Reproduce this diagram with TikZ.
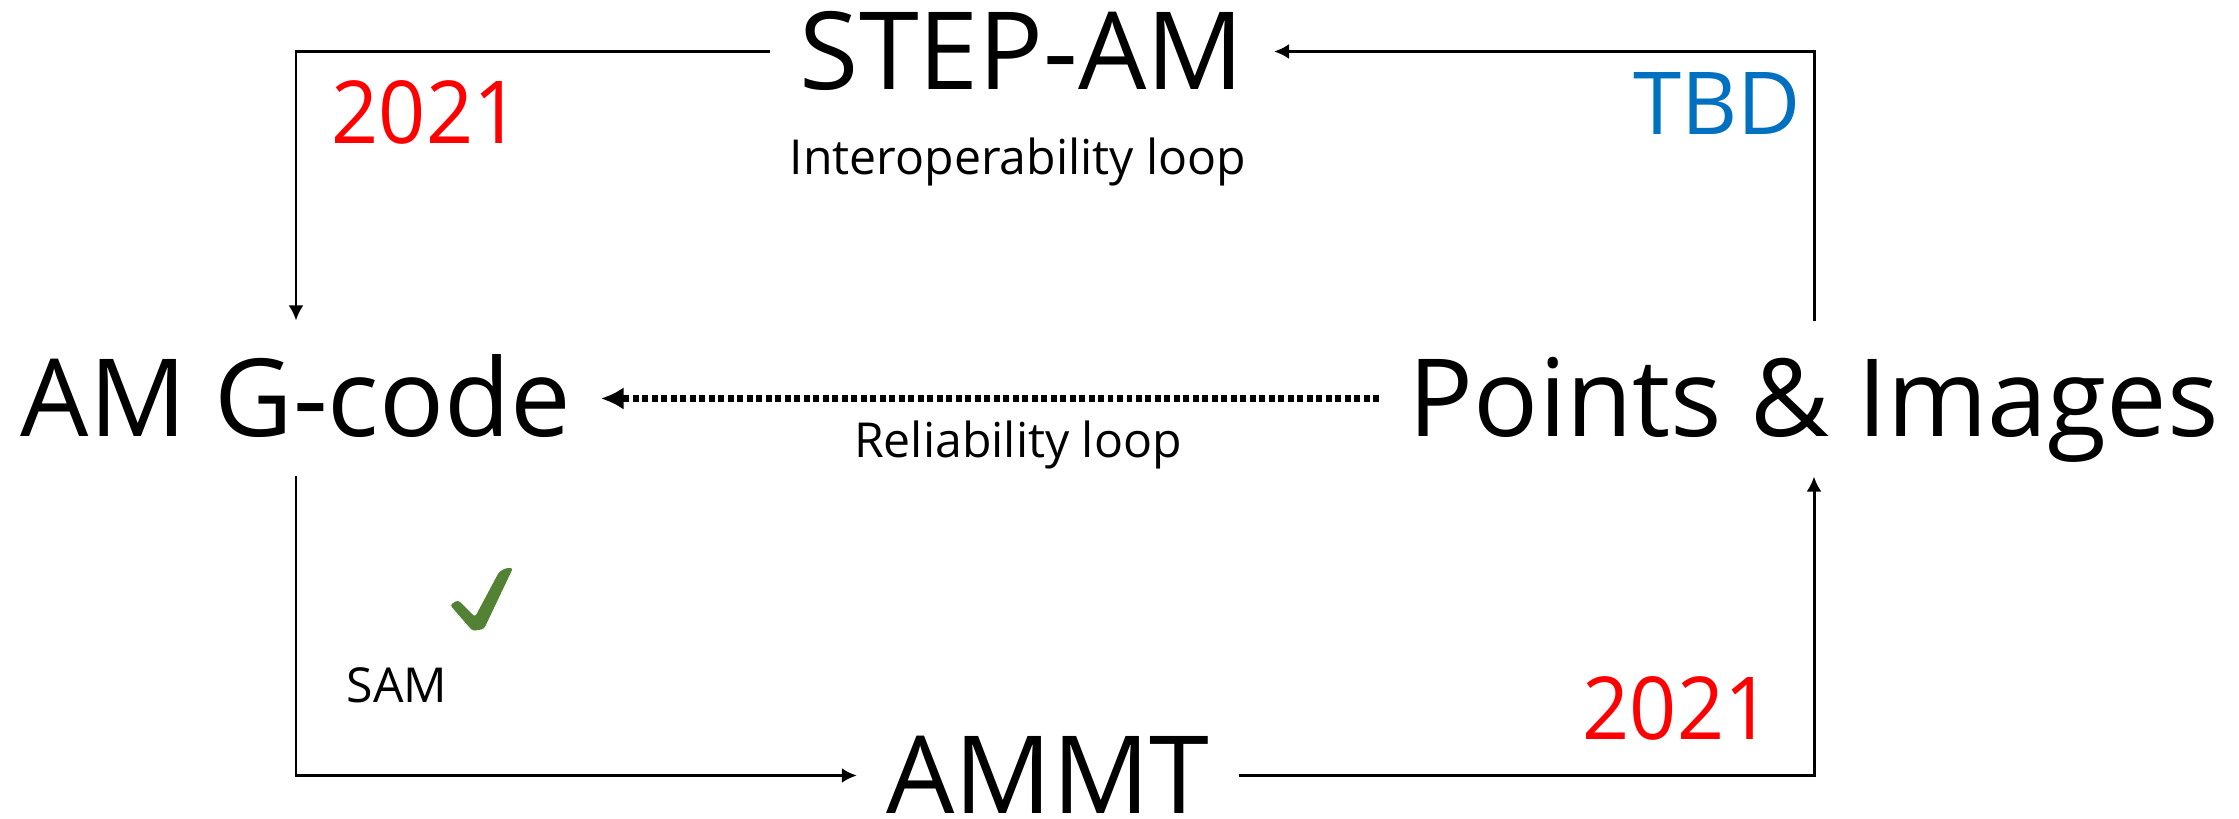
\documentclass[tikz,border=0pt]{standalone}
\usepackage{fontspec}
\setmainfont{Open Sans}
\usepackage{tikz}
\usetikzlibrary{arrows.meta}
\definecolor{yearred}{HTML}{FF0000}
\definecolor{tbdblue}{HTML}{0070C0}
\definecolor{okgreen}{HTML}{548235}
\tikzset{
  big/.style={font={\fontsize{30.7pt}{36pt}\selectfont}, inner xsep=8pt, inner ysep=10.8pt,
    text height=21.9pt, text depth=0pt, anchor=base},
  small/.style={font={\fontsize{13.7pt}{17pt}\selectfont}, inner sep=0pt, anchor=base},
  year/.style={font={\fontsize{24.7pt}{30pt}\selectfont}, inner sep=0pt, anchor=base},
  tip/.style={-{Latex[length=4.3pt,width=4.3pt]}}}

\begin{document}
\begin{tikzpicture}[x=0.01cm, y=-0.01cm, line width=0.85pt]
  \useasboundingbox (0,0) rectangle (2239,819);
  % main stages
  \node (st) [big] at (1022,90) {STEP-AM};
  \node (gc) [big] at (296,437) {AM G-code};
  \node (pi) [big] at (1814,437) {Points \& Images};
  \node (mt) [big] at (1048,814) {AMMT};
  % loop names and status
  \node (il) [small] at (1018,175) {Interoperability loop};
  \node (rl) [small] at (1018,458) {Reliability loop};
  \node (sm) [small] at (397,703) {SAM};
  \node (y1) [year, text=yearred, xscale=0.95] at (426,144) {2021};
  \node (y2) [year, text=yearred, xscale=0.95] at (1677,740) {2021};
  \node (tb) [year, text=tbdblue] at (1717,135) {TBD};
  % tick next to SAM
  \fill[okgreen, rounded corners=0.8pt]
    (450,605) -- (458,600) -- (475,617) -- (499,572) -- (506,568) -- (513,568)
    -- (484,629) -- (473,631) -- (470,628) -- cycle;
  \draw[tip] (pi.north) |- (st.east);
  \draw[tip] (st.west) -| (gc.north);
  \draw[tip] (gc.south) |- (mt.west);
  \draw[tip] (mt.east) -| (pi.south);
  \draw[line width=1.9pt, dash pattern=on 1.7pt off 1pt, -{Latex[length=6.5pt,width=6.5pt]}]
    (pi.west) -- (gc.east);
\end{tikzpicture}
\end{document}
